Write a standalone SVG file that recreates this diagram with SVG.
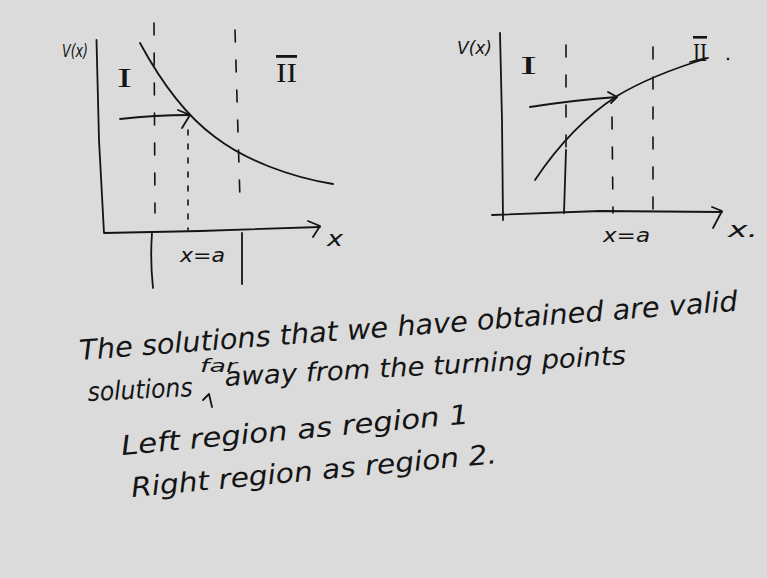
<svg xmlns="http://www.w3.org/2000/svg" width="767" height="578" viewBox="0 0 767 578">
<style>
.ink{fill:none;stroke:#141414;stroke-width:1.8;stroke-linecap:round;stroke-linejoin:round}
.dash{fill:none;stroke:#141414;stroke-width:1.6;stroke-dasharray:12 18;stroke-linecap:round}
.dot{fill:none;stroke:#141414;stroke-width:1.6;stroke-dasharray:5 9;stroke-linecap:round}
.hw{font-family:"DejaVu Sans","Liberation Sans",sans-serif;font-style:italic;fill:#141414}
.rom{font-family:"Liberation Serif",serif;fill:#141414}
</style>
<rect width="767" height="578" fill="#dbdbdb"/>
<g id="left-plot">
<path class="ink" d="M96.5,40 L99,140 L104,233 L200,231 L320,227"/>
<path class="ink" d="M308,221 L320,226 L313,237"/>
<path class="ink" d="M140,43 C160,80 185,115 215,137 C245,160 290,177 333,184"/>
<path class="ink" d="M120,119 Q155,115 190,115"/>
<path class="ink" d="M178,110 L190,115 L182,128"/>
<path class="dot" d="M188,130 L188,230"/>
<path class="dash" d="M154,23 L155,213"/>
<path class="ink" d="M152,233 Q150,260 153,288"/>
<path class="dash" d="M235,30 L240,200"/>
<path class="ink" d="M242,233 L242,284"/>
<text class="hw" x="62" y="57" font-size="17" textLength="26" lengthAdjust="spacingAndGlyphs">V(x)</text>
<text class="rom" x="117" y="87" font-size="28" textLength="15" lengthAdjust="spacingAndGlyphs">I</text>
<text class="rom" x="276" y="82" font-size="28" textLength="21" lengthAdjust="spacingAndGlyphs" text-decoration="overline">II</text>
<text class="hw" x="180" y="262" font-size="19" textLength="45" lengthAdjust="spacingAndGlyphs">x=a</text>
<text class="hw" x="327" y="246" font-size="22" textLength="16" lengthAdjust="spacingAndGlyphs">x</text>
</g>
<g id="right-plot">
<path class="ink" d="M500,33 L502,120 L503,220"/>
<path class="ink" d="M492,215 L600,211 L722,212"/>
<path class="ink" d="M712,207 L722,211 L713,228"/>
<path class="ink" d="M535,180 C555,150 580,120 617,96 C645,79 675,68 708,58"/>
<path class="ink" d="M530,107 Q575,100 617,97"/>
<path class="ink" d="M608,92 L617,97 L611,103"/>
<path class="dash" d="M566,45 L566,150"/>
<path class="ink" d="M566,150 L564,213"/>
<path class="dash" d="M612,117 L613,213"/>
<path class="dash" d="M653,47 L653,213"/>
<path class="ink" d="M690,62 L706,58"/>
<circle cx="728" cy="59" r="1.3" fill="#141414"/>
<text class="hw" x="457" y="54" font-size="17" textLength="35" lengthAdjust="spacingAndGlyphs">V(x)</text>
<text class="rom" x="520" y="74" font-size="26" textLength="17" lengthAdjust="spacingAndGlyphs">I</text>
<text class="rom" x="693" y="61" font-size="26" textLength="14" lengthAdjust="spacingAndGlyphs" text-decoration="overline">II</text>
<text class="hw" x="603" y="242" font-size="20" textLength="47" lengthAdjust="spacingAndGlyphs">x=a</text>
<text class="hw" x="728" y="237" font-size="22" textLength="30" lengthAdjust="spacingAndGlyphs">x.</text>
</g>
<g id="notes">
<text class="hw" font-size="28" transform="translate(80,360) rotate(-4.3)" textLength="660" lengthAdjust="spacingAndGlyphs">The solutions that we have obtained are valid</text>
<text class="hw" font-size="26" transform="translate(88,401) rotate(-2.7)" textLength="105" lengthAdjust="spacingAndGlyphs">solutions</text>
<text class="hw" font-size="18" x="200" y="372" textLength="37" lengthAdjust="spacingAndGlyphs">far</text>
<path class="ink" d="M203,400 L209,394 L212,407"/>
<text class="hw" font-size="26" transform="translate(225,386) rotate(-3.1)" textLength="402" lengthAdjust="spacingAndGlyphs">away from the turning points</text>
<text class="hw" font-size="27" transform="translate(122,455) rotate(-5.2)" textLength="349" lengthAdjust="spacingAndGlyphs">Left region as region 1</text>
<text class="hw" font-size="27" transform="translate(132,497) rotate(-5.3)" textLength="367" lengthAdjust="spacingAndGlyphs">Right region as region 2.</text>
</g>
</svg>
